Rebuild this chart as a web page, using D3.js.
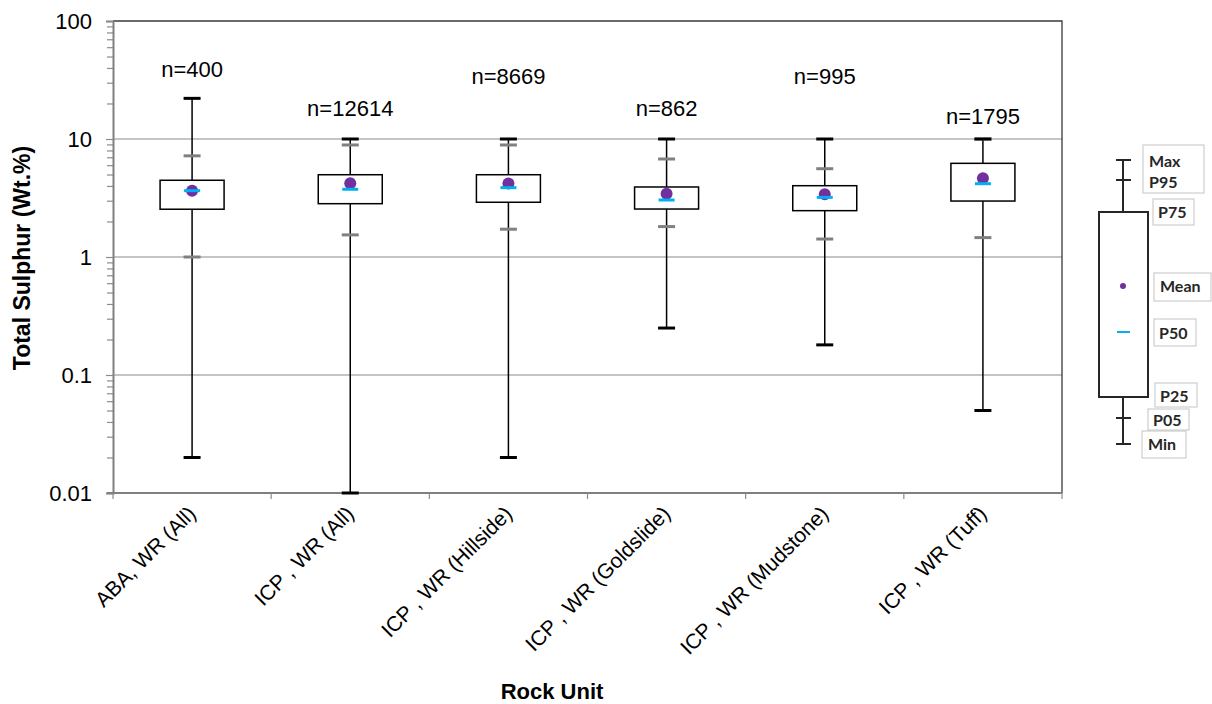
<!DOCTYPE html>
<html>
<head>
<meta charset="utf-8">
<script src="https://cdn.jsdelivr.net/npm/d3@7"></script>
<style>
  body { margin: 0; background: #fff; }
  text { font-family: "Liberation Sans", Arial, sans-serif; }
</style>
</head>
<body>
<div id="chart"></div>
<script>
// rock units and their stats (Total Sulphur, Wt.%)
var categories = ["ABA, WR (All)", "ICP , WR (All)", "ICP , WR (Hillside)",
                  "ICP , WR (Goldslide)", "ICP , WR (Mudstone)", "ICP , WR (Tuff)"];
var counts   = [400, 12614, 8669, 862, 995, 1795];
var minVals  = [0.02, 0.01, 0.02, 0.25, 0.18, 0.05];
var p05Vals  = [1.0, 1.54, 1.72, 1.81, 1.42, 1.46];
var p25Vals  = [2.54, 2.83, 2.91, 2.55, 2.47, 2.98];
var p50Vals  = [3.65, 3.75, 3.87, 3.04, 3.2, 4.18];
var meanVals = [3.65, 4.21, 4.2, 3.44, 3.4, 4.64];
var p75Vals  = [4.47, 4.98, 4.98, 3.92, 4.02, 6.22];
var p95Vals  = [7.2, 8.9, 8.9, 6.77, 5.6, 10];
var maxVals  = [22.1, 10, 10, 10, 10, 10];

var yTicks = [0.01, 0.1, 1, 10, 100];
var yTickLabels = ["0.01", "0.1", "1", "10", "100"];

// baseline of the n= labels (px)
var nLabelY = [77, 116, 84, 116, 84, 124];

var margin = {top: 21, right: 150, bottom: 211, left: 113},
    width = 1212 - margin.left - margin.right,
    height = 704 - margin.top - margin.bottom;

var svg = d3.select("#chart").append("svg")
    .attr("width", 1212)
    .attr("height", 704)
    .style("background-color", "white");

var g = svg.append("g")
    .attr("transform", "translate(" + margin.left + "," + margin.top + ")");

var x = d3.scaleBand().domain(categories).range([0, width]).padding(0);
var y = d3.scaleLog().domain([0.01, 100]).range([height, 0]);

var data = categories.map(function(c, i) {
  return {cat: c, n: counts[i], min: minVals[i], p05: p05Vals[i], p25: p25Vals[i],
          p50: p50Vals[i], mean: meanVals[i], p75: p75Vals[i], p95: p95Vals[i], max: maxVals[i]};
});

// gridlines
g.selectAll(".grid").data([0.1, 1, 10]).enter().append("line")
    .attr("x1", 0).attr("x2", width)
    .attr("y1", function(d) { return y(d); })
    .attr("y2", function(d) { return y(d); })
    .attr("stroke", "#8c8c8c").attr("stroke-width", 1.2);

// plot border (top/right)
g.append("path")
    .attr("d", "M0,0H" + width + "V" + height)
    .attr("fill", "none").attr("stroke", "#3a3a3a").attr("stroke-width", 1.3);

// minor ticks on y
var minor = [];
yTicks.slice(0, -1).forEach(function(t) {
  for (var k = 2; k <= 9; k++) minor.push(t * k);
});
var yMinor = g.append("g")
    .call(d3.axisLeft(y).tickValues(minor).tickSize(6).tickFormat(""));
yMinor.select(".domain").remove();
yMinor.selectAll("line").attr("stroke", "#8c8c8c").attr("stroke-width", 1.2);

// Y axis
var yAxis = g.append("g")
    .call(d3.axisLeft(y).tickValues(yTicks).tickSize(7).tickPadding(14)
      .tickFormat(function(d, i) { return yTickLabels[i]; }));
yAxis.select(".domain").attr("stroke", "#808080").attr("stroke-width", 2);
yAxis.selectAll("line").attr("stroke", "#8c8c8c").attr("stroke-width", 1.2);
yAxis.selectAll("text")
    .style("font-size", "22px").attr("fill", "#000")
    .attr("dy", "0.35em");

// X axis: ticks between categories
var xAxis = g.append("g").attr("transform", "translate(0," + height + ")");
xAxis.append("line").attr("x1", -6).attr("x2", width)
    .attr("stroke", "#808080").attr("stroke-width", 2);
xAxis.selectAll(".xt").data(categories.concat(["end"])).enter().append("line")
    .attr("x1", function(d, i) { return i < categories.length ? x(d) : width; })
    .attr("x2", function(d, i) { return i < categories.length ? x(d) : width; })
    .attr("y1", 0).attr("y2", 6)
    .attr("stroke", "#8c8c8c").attr("stroke-width", 1.2);

xAxis.selectAll(".xl").data(categories).enter().append("text")
    .attr("transform", function(d) {
      return "translate(" + (x(d) + x.bandwidth() / 2 + 5) + ",22) rotate(-45)";
    })
    .attr("text-anchor", "end")
    .style("font-size", "21px")
    .text(function(d) { return d; });

// boxes
var boxW = 64, capW = 17;
var box = g.selectAll(".box").data(data).enter().append("g")
    .attr("transform", function(d) { return "translate(" + (x(d.cat) + x.bandwidth() / 2) + ",0)"; });

box.append("line")
    .attr("y1", function(d) { return y(d.min); })
    .attr("y2", function(d) { return y(d.max); })
    .attr("stroke", "#000").attr("stroke-width", 1.5);

box.append("rect")
    .attr("x", -boxW / 2).attr("width", boxW)
    .attr("y", function(d) { return y(d.p75); })
    .attr("height", function(d) { return y(d.p25) - y(d.p75); })
    .attr("fill", "white").attr("stroke", "#000").attr("stroke-width", 1.5);

// P05 / P95 grey ticks
["p05", "p95"].forEach(function(k) {
  box.append("line")
      .attr("x1", -capW / 2).attr("x2", capW / 2)
      .attr("y1", function(d) { return y(d[k]); })
      .attr("y2", function(d) { return y(d[k]); })
      .attr("stroke", "#808080").attr("stroke-width", 3);
});
// min / max caps
["min", "max"].forEach(function(k) {
  box.append("line")
      .attr("x1", -capW / 2).attr("x2", capW / 2)
      .attr("y1", function(d) { return y(d[k]); })
      .attr("y2", function(d) { return y(d[k]); })
      .attr("stroke", "#000").attr("stroke-width", 3);
});

box.append("circle")
    .attr("cy", function(d) { return y(d.mean); })
    .attr("r", 6).attr("fill", "#7030a0");

box.append("line")
    .attr("x1", -8).attr("x2", 8)
    .attr("y1", function(d) { return y(d.p50); })
    .attr("y2", function(d) { return y(d.p50); })
    .attr("stroke", "#00b0f0").attr("stroke-width", 3);

// n= labels
svg.selectAll(".nlab").data(data).enter().append("text")
    .attr("x", function(d) { return margin.left + x(d.cat) + x.bandwidth() / 2; })
    .attr("y", function(d, i) { return nLabelY[i]; })
    .attr("text-anchor", "middle")
    .style("font-size", "22px")
    .text(function(d) { return "n=" + d.n; });

// axis titles
svg.append("text")
    .attr("transform", "translate(30,258) rotate(-90)")
    .attr("text-anchor", "middle")
    .style("font-size", "23px").style("font-weight", "bold")
    .text("Total Sulphur (Wt.%)");

svg.append("text")
    .attr("x", 552).attr("y", 699)
    .attr("text-anchor", "middle")
    .style("font-size", "22px").style("font-weight", "bold")
    .text("Rock Unit");

// legend (schematic box), positions in px above the Min cap
var legKeys = ["Min", "P05", "P25", "P50", "Mean", "P75", "P95", "Max"];
var legPos = [0, 26, 47, 112, 158, 232, 264, 284];
var ly = d3.scaleLinear().domain([0, 284]).range([444, 160]);
var leg = svg.append("g").attr("transform", "translate(1123,0)");

leg.append("line").attr("y1", ly(0)).attr("y2", ly(284))
    .attr("stroke", "#262626").attr("stroke-width", 2);
leg.append("rect").attr("x", -24).attr("width", 49)
    .attr("y", ly(legPos[5])).attr("height", ly(legPos[2]) - ly(legPos[5]))
    .attr("fill", "white").attr("stroke", "#262626").attr("stroke-width", 2);
[0, 1, 6, 7].forEach(function(i) {
  leg.append("line").attr("x1", -7).attr("x2", 8)
      .attr("y1", ly(legPos[i])).attr("y2", ly(legPos[i]))
      .attr("stroke", "#262626").attr("stroke-width", 2);
});
leg.append("circle").attr("cy", ly(legPos[4])).attr("r", 3).attr("fill", "#7030a0");
leg.append("line").attr("x1", -6).attr("x2", 7)
    .attr("y1", ly(legPos[3])).attr("y2", ly(legPos[3]))
    .attr("stroke", "#00b0f0").attr("stroke-width", 2);

// label boxes
var legBoxes = [
  {x: 1143, y: 145, w: 61, h: 48, lines: ["Max", "P95"], tx: 1149, ty: [167, 188]},
  {x: 1153, y: 199, w: 41, h: 26, lines: ["P75"], tx: 1158, ty: [218]},
  {x: 1154, y: 273, w: 57, h: 28, lines: ["Mean"], tx: 1160, ty: [292]},
  {x: 1154, y: 319, w: 42, h: 27, lines: ["P50"], tx: 1159, ty: [339]},
  {x: 1155, y: 383, w: 42, h: 24, lines: ["P25"], tx: 1160, ty: [402]},
  {x: 1148, y: 409, w: 41, h: 21, lines: ["P05"], tx: 1153, ty: [426]},
  {x: 1142, y: 431, w: 44, h: 27, lines: ["Min"], tx: 1148, ty: [450]}
];
legBoxes.forEach(function(b) {
  svg.append("rect").attr("x", b.x).attr("y", b.y).attr("width", b.w).attr("height", b.h)
      .attr("fill", "white").attr("stroke", "#c4c4c4").attr("stroke-width", 1);
  b.lines.forEach(function(t, i) {
    svg.append("text").attr("x", b.tx).attr("y", b.ty[i])
        .style("font-family", "Lato, 'Open Sans', sans-serif")
        .style("font-size", "16px").style("font-weight", "bold")
        .attr("fill", "#262626")
        .text(t);
  });
});
</script>
</body>
</html>
